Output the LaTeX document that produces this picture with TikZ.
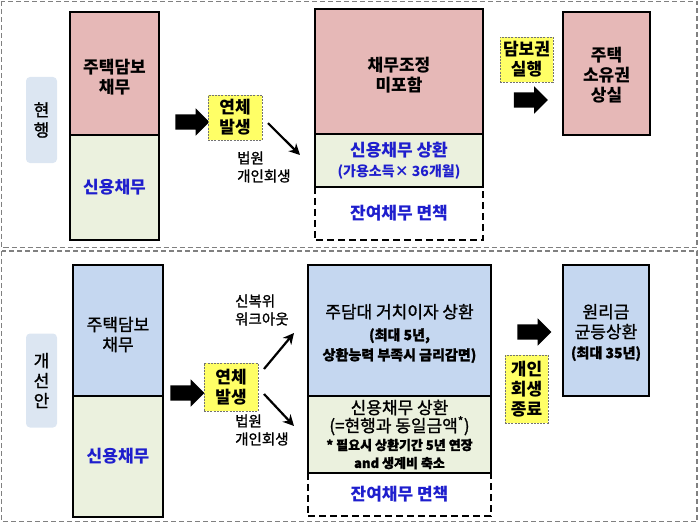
\documentclass[tikz,border=0pt]{standalone}
\usepackage{fontspec}
\setmainfont{Noto Sans CJK KR}
\newfontfamily\medf[FakeBold=1.2]{Noto Sans CJK KR}
\usetikzlibrary{arrows.meta,positioning,shapes.arrows}
\definecolor{pinkc}{RGB}{230,184,183}
\definecolor{greenc}{RGB}{235,241,222}
\definecolor{bluec}{RGB}{197,215,240}
\definecolor{labc}{RGB}{220,230,242}
\definecolor{yelc}{RGB}{255,255,102}
\definecolor{txtb}{RGB}{30,30,205}
\newcommand\bigf{\fontsize{17}{20}\selectfont}
\newcommand\smf{\fontsize{14}{16}\selectfont}
\begin{document}
\begin{tikzpicture}[x=1pt,y=-1pt,
every node/.style={inner sep=0pt,align=center,font=\bigf},
box/.style={draw,line width=1.6pt},
lab/.style={fill=labc,rounded corners=4pt,minimum width=31pt,font=\bigf\medf},
yel/.style={fill=yelc,draw=black!55,line width=0.7pt,dash pattern=on 2pt off 1.2pt,font=\bigf\bfseries},
bigarrow/.style={single arrow,fill=black,inner xsep=0pt,inner ysep=7.5pt,
  single arrow head extend=6pt,minimum height=34pt},
arr/.style={line width=2.2pt,-{Stealth[length=11pt,width=11pt]}},
dbox/.style={line width=1.5pt,dash pattern=on 7pt off 4pt},
frame/.style={draw=black!50,line width=1.1pt,dash pattern=on 5pt off 3pt},
note/.style={font=\fontsize{14.5}{18}\selectfont\medf,align=left,anchor=west}]
\draw[frame] (1.5,1.5) rectangle (697,247.5);
\draw[frame] (1.5,251) rectangle (697,521.5);
\node[lab,minimum height=86pt] (L1) at (41.5,120) {현\\행};
\node[box,fill=pinkc,minimum width=89pt,minimum height=123pt] (A1) at (114.5,73.5) {};
\node[font=\bigf\bfseries] (A1t) at ([yshift=-4pt]A1.center) {주택담보\\채무};
\node[box,fill=greenc,minimum width=89pt,minimum height=105pt,font=\bigf\bfseries,text=txtb] (A2) at (114.5,187.5) {신용채무};
\node[bigarrow] (K1) at (188.5,122) {};
\node[yel,minimum width=54pt,minimum height=45pt] (Y1) at (235,117.5) {연체\\발생};
\coordinate (C1) at (300,155);
\draw[arr,shorten <=8pt] (Y1.east) -- (C1);
\node[note] (T1) at (237,167) {법원\\개인회생};
\node[box,fill=pinkc,minimum width=168pt,minimum height=125pt] (B1) at (399,71.5) {};
\node[font=\bigf\bfseries] (B1t) at ([yshift=-4pt]B1.center) {채무조정\\미포함};
\node[box,fill=greenc,minimum width=168pt,minimum height=53pt,font=\bigf\bfseries,text=txtb] (B2) at (399,160.5) {신용채무 상환\\ \smf (가용소득×~36개월)};
\node[minimum width=168pt,minimum height=53pt,font=\bigf\bfseries,text=txtb] (B3) at (399,213.5) {잔여채무 면책};
\draw[dbox] (B3.north west) -- (B3.south west) -- (B3.south east) -- (B3.north east);
\node[yel,minimum width=53pt,minimum height=45pt] (Y2) at (526.5,59.5) {담보권\\실행};
\node[bigarrow] (K2) at (527,100) {};
\node[box,fill=pinkc,minimum width=87pt,minimum height=123pt] (R1) at (606.5,73.5) {};
\node[font=\bigf\bfseries] (R1t) at ([yshift=-2pt]R1.center) {주택\\소유권\\상실};
\node[lab,minimum height=94pt] (L2) at (41.5,380.5) {개\\선\\안};
\node[box,fill=bluec,minimum width=90pt,minimum height=131pt] (D1) at (118,330.5) {};
\node[font=\bigf\medf] (D1t) at ([yshift=-4pt]D1.center) {주택담보\\채무};
\node[box,fill=greenc,minimum width=90pt,minimum height=121pt,font=\bigf\bfseries,text=txtb] (D2) at (118,456.5) {신용채무};
\node[bigarrow] (K3) at (183.5,393) {};
\node[yel,minimum width=54pt,minimum height=48pt] (Y3) at (231,387) {연체\\발생};
\coordinate (U0) at (264,369);
\coordinate (U1) at (294,333);
\coordinate (W0) at (264,394);
\coordinate (W1) at (294,426);
\draw[arr] (U0) -- (U1);
\draw[arr] (W0) -- (W1);
\node[note] (T2) at (235,310) {신복위\\워크아웃};
\node[note] (T3) at (235,430) {법원\\개인회생};
\node[box,fill=bluec,minimum width=183pt,minimum height=131pt] (E1) at (399.5,330.5) {};
\node[font=\bigf\medf] (E1t) at ([yshift=-3pt]E1.center) {주담대 거치이자 상환\\[2pt] \smf\bfseries (최대 5년,\\ \smf\bfseries 상환능력 부족시 금리감면)};
\node[box,fill=greenc,minimum width=183pt,minimum height=77pt] (E2) at (399.5,434.5) {};
\node[font=\fontsize{17}{18}\selectfont\medf] (E2t) at (E2.center) {신용채무 상환\\(=현행과 동일금액\textsuperscript{*})\\ \fontsize{13}{15}\selectfont\bfseries * 필요시 상환기간 5년 연장\\ \fontsize{13}{15}\selectfont\bfseries and 생계비 축소};
\node[minimum width=183pt,minimum height=43pt,font=\bigf\bfseries,text=txtb] (E3) at (399.5,494.5) {잔여채무 면책};
\draw[dbox] (E3.north west) -- (E3.south west) -- (E3.south east) -- (E3.north east);
\node[bigarrow] (K4) at (530.5,332) {};
\node[yel,minimum width=43pt,minimum height=68pt] (Y4) at (526.5,389) {개인\\회생\\종료};
\node[box,fill=bluec,minimum width=86pt,minimum height=131pt] (R2) at (606,330.5) {};
\node[font=\bigf\medf] (R2t) at ([yshift=-2pt]R2.center) {원리금\\균등상환\\ \smf\bfseries (최대 35년)};
\useasboundingbox (0,0) rectangle (700,524);
\end{tikzpicture}
\end{document}
